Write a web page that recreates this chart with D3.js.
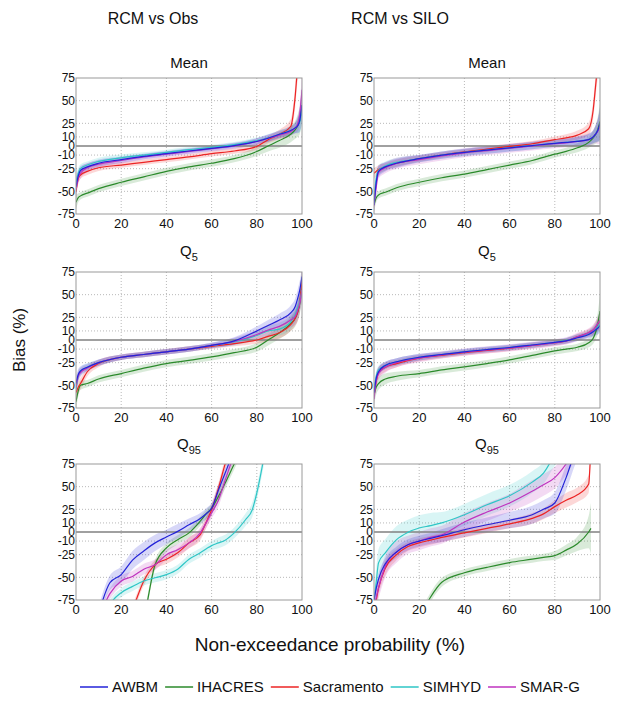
<!DOCTYPE html>
<html>
<head>
<meta charset="utf-8">
<script src="https://cdn.jsdelivr.net/npm/d3@7/dist/d3.min.js"></script>
<style>
  body { margin: 0; background: #fff; }
  text { font-family: "Liberation Sans", Arial, sans-serif; fill: #111; }
</style>
</head>
<body>
<div id="chart"></div>
<script>
// model names, in legend order
const models = ["AWBM", "IHACRES", "Sacramento", "SIMHYD", "SMAR-G"];
const columnTitles = ["RCM vs Obs", "RCM vs SILO"];
const rowTitles = [["Mean", ""], ["Q", "5"], ["Q", "95"]];
const xTicks = [0, 20, 40, 60, 80, 100];
const yTicks = [-75, -50, -25, -10, 0, 10, 25, 50, 75];

// x positions (non-exceedance %) for Mean and Q5 panels
const curveX = [0, 1, 2, 5, 10, 20, 30, 40, 50, 60, 70, 80, 85, 90, 95, 97, 98, 99, 100];

// Mean, RCM vs Obs  (rows: AWBM, IHACRES, Sacramento, SIMHYD, SMAR-G)
const obsMeanY = [
  [-45, -33, -27, -23, -19, -15, -11.5, -8.5, -5.5, -2.6, 0.5, 5, 8.6, 13, 17, 20, 22, 28, 45],
  [-62, -57, -55, -52, -47, -40, -34, -28, -23, -19, -14, -6, 0, 6, 13, 18, 22, 28, 45],
  [-50, -36, -32, -28, -24, -21, -18, -15, -12, -8.5, -5.5, -0.5, 7, 13, 21.5, 55, 85, 100, 110],
  [-40, -30, -25, -21, -17, -13, -10, -7, -4, -1.5, 1.5, 6, 9, 13, 17, 20, 23, 27, 40],
  [-48, -35, -30, -24, -20, -16, -12, -9, -6, -3, 0, 5, 8.5, 12, 16, 20, 24, 35, 62]
];
const obsMeanBand = [
  [10, 6, 5, 4, 4, 3.5, 3, 3, 3, 3, 3, 3.5, 4, 4, 5, 6, 8, 12, 20],
  [8, 5, 4, 4, 4, 4, 4, 4, 4, 4, 4, 5, 6, 8, 9, 10, 12, 15, 18],
  [8, 5, 4, 4, 3.5, 3, 3, 3, 3, 3, 3, 3.5, 4, 5, 8, 12, 15, 20, 25],
  [8, 6, 5, 4, 4, 3.5, 3, 3, 3, 3, 3, 3.5, 4, 4, 5, 6, 8, 12, 15],
  [10, 7, 6, 5, 4, 3.5, 3, 3, 3, 3, 3, 3.5, 4, 4, 5, 6, 8, 12, 20]
];

// Mean, RCM vs SILO
const siloMeanY = [
  [-65, -40, -28, -23, -19, -14, -10, -7, -4.5, -2, 0.5, 3, 4, 5, 7, 10, 13, 17, 25],
  [-65, -57, -54, -51, -46, -40, -35, -31, -26, -21, -16, -9, -6, -2, 4, 9, 12.5, 18, 27],
  [-30, -28, -26, -23, -19, -14, -10, -6.5, -3.5, -0.5, 2.5, 7, 9, 12, 19, 40, 65, 90, 110],
  [-60, -35, -27, -22, -18, -14, -10, -7, -4.5, -2, 0.5, 3, 4, 5.5, 7.5, 10, 13, 17, 22],
  [-66, -45, -29, -24, -19, -15, -11, -7.5, -5, -2.5, 0, 2.5, 3.5, 5, 7, 10, 13, 16, 22]
];
const siloMeanBand = [
  [8, 7, 6, 5, 5, 4, 4, 4, 4, 4, 4, 4, 4, 5, 6, 7, 9, 12, 18],
  [8, 5, 4, 4, 4, 4, 4, 4, 4, 4, 4, 4, 4, 5, 6, 8, 10, 14, 20],
  [6, 5, 5, 4, 4, 3.5, 3, 3, 3, 3, 3, 3.5, 4, 5, 7, 10, 12, 15, 20],
  [8, 7, 6, 5, 5, 4, 4, 4, 4, 4, 4, 4, 4, 5, 6, 7, 9, 12, 18],
  [10, 8, 7, 6, 6, 5, 5, 5, 5, 5, 5, 5, 5, 6, 7, 8, 10, 14, 20]
];

// Q5, RCM vs Obs
const obsQ5Y = [
  [-48, -38, -34, -30, -25, -19, -16, -13, -10, -6, -1, 10, 16, 22, 30, 37, 45, 55, 70],
  [-68, -56, -50, -48, -43, -37, -31, -26, -22.5, -18.7, -14, -8, 0, 8, 18, 24, 30, 40, 60],
  [-58, -52, -48, -35, -26, -19, -16, -13, -10, -7, -4, 0, 4, 8, 17, 24, 30, 42, 65],
  [-55, -40, -35, -30, -25, -19, -16, -13, -10, -6, -2, 5, 10, 12, 20, 28, 35, 42, 55],
  [-52, -40, -36, -31, -25, -19, -16, -13, -10, -6, -1.5, 6, 11, 15, 22, 26, 32, 40, 55]
];
const obsQ5Band = [
  [8, 6, 5, 4, 3.5, 3, 3, 3, 3, 3, 4, 5, 6, 7, 8, 9, 10, 10, 10],
  [10, 6, 5, 4, 4, 4, 4, 4, 4, 4, 4, 5, 6, 7, 8, 9, 10, 12, 15],
  [8, 7, 6, 5, 4, 3, 3, 3, 3, 3, 3, 4, 5, 6, 7, 8, 10, 12, 15],
  [8, 6, 5, 4, 3.5, 3, 3, 3, 3, 3, 4, 5, 6, 7, 8, 9, 10, 10, 12],
  [8, 6, 5, 4, 3.5, 3, 3, 3, 3, 3, 4, 5, 6, 7, 8, 9, 10, 10, 12]
];

// Q5, RCM vs SILO
const siloQ5Y = [
  [-58, -42, -35, -28, -24, -19, -16, -13, -10.5, -8.3, -5.5, -2.6, -1, 2.5, 6, 9, 11, 13, 16],
  [-61, -52, -48, -43, -40, -37, -33, -29.6, -26, -22, -17, -12, -10, -8, -3, 2, 8, 18, 32],
  [-60, -45, -36, -30, -26, -20, -17, -14, -11.5, -9, -6, -3, -1, 3.5, 8, 11, 14, 17, 21],
  [-55, -40, -33, -28, -24, -19, -16, -13, -10.5, -8.3, -5.5, -2.6, -0.5, 3, 7, 10, 12, 15, 19],
  [-65, -45, -37, -30, -25, -20, -16.5, -13.5, -11, -8.8, -6, -3, -1, 3.5, 8, 11, 14, 18, 22]
];
const siloQ5Band = [
  [8, 6, 5, 4, 4, 3.5, 3, 3, 3, 3, 3, 3, 3, 3.5, 4, 5, 6, 7, 8],
  [10, 8, 7, 6, 5, 4, 4, 4, 4, 4, 4, 4, 4, 4, 5, 6, 8, 12, 18],
  [8, 7, 6, 5, 4, 3.5, 3, 3, 3, 3, 3, 3, 3, 3.5, 4, 5, 6, 7, 8],
  [8, 6, 5, 4, 4, 3.5, 3, 3, 3, 3, 3, 3, 3, 3.5, 4, 5, 6, 7, 8],
  [10, 8, 7, 6, 5, 4.5, 4, 4, 4, 4, 4, 4, 4, 4.5, 5, 6, 7, 8, 10]
];

// Q95, RCM vs Obs
const obsQ95X = [10, 15, 20, 25, 30, 35, 40, 45, 50, 55, 58, 60, 63, 66, 70, 75, 78, 80, 83];
const obsQ95Y = [
  [-90, -56, -47, -31, -21, -12, -5.5, 0.7, 8, 15, 21, 26, 46, 65, 90, 110, 120, 125, 130],
  [null, null, -150, -125, -95, -36, -17.6, -8.5, -1, 12, 21, 26, 39, 54, 75, 100, 110, 115, 120],
  [-150, -130, -110, -85, -54, -36, -30, -23, -12, -3, 13, 24.5, 48, 75, 100, 115, 120, 125, 130],
  [-110, -80, -67, -60, -54, -50.5, -47, -41, -30, -23, -18, -15, -12, -9, -1, 13.5, 24.5, 43, 80],
  [-95, -68, -54, -49, -41, -36, -25, -19.5, -12, -1, 12, 21, 35, 57, 85, 105, 115, 120, 125]
];
const obsQ95Band = [
  [8, 8, 9, 10, 10, 9, 8, 8, 7, 6, 6, 6, 6, 6, 6, 6, 6, 6, 6],
  [5, 5, 5, 5, 5, 5, 5, 5, 5, 5, 5, 5, 6, 6, 6, 6, 6, 6, 6],
  [5, 5, 5, 5, 5, 5, 5, 5, 6, 6, 6, 6, 6, 6, 6, 6, 6, 6, 6],
  [5, 5, 5, 5, 5, 5, 5, 5, 5, 5, 5, 5, 6, 6, 6, 7, 8, 8, 8],
  [6, 6, 6, 6, 6, 6, 6, 6, 6, 6, 6, 6, 7, 7, 7, 7, 7, 7, 7]
];

// Q95, RCM vs SILO
const siloQ95X = [0, 1, 2, 5, 10, 15, 20, 25, 30, 40, 50, 60, 70, 75, 80, 85, 90, 95, 96, 98];
const siloQ95Y = [
  [-75, -62, -52, -35, -22, -14, -10, -7, -4, 2.5, 8, 13, 19, 25, 32, 60, 95, 110, 115, 120],
  [null, null, null, null, null, -120, -95, -72, -55.5, -45, -39, -33.7, -30, -28, -26, -20, -13, 0, 4, null],
  [-88, -75, -62, -40, -25, -16, -12, -9, -6, -1, 4, 9, 15, 20, 28, 35, 41, 53, 90, 110],
  [-75, -55, -34, -23, -8.4, -0.4, 4.4, 7, 10, 19, 30, 40, 55, 65, 85, 100, 110, 120, 125, 130],
  [-85, -72, -62, -38, -22, -14, -10, -6, -3, 11, 22, 32, 45, 52, 60, 75, 95, 110, 115, 120]
];
const siloQ95Band = [
  [5, 6, 6, 6, 6, 6, 6, 6, 7, 8, 8, 9, 10, 10, 12, 14, 15, 15, 15, 15],
  [5, 5, 5, 5, 5, 5, 5, 5, 5, 4, 4, 4, 4, 4, 5, 6, 8, 18, 28, 28],
  [8, 8, 8, 8, 6, 5, 5, 5, 5, 5, 5, 5, 6, 6, 7, 8, 8, 10, 10, 10],
  [10, 15, 15, 15, 15, 14, 14, 14, 12, 12, 12, 12, 12, 12, 12, 12, 12, 12, 12, 12],
  [10, 12, 12, 12, 12, 10, 10, 10, 10, 10, 10, 10, 12, 12, 12, 12, 12, 12, 12, 12]
];

// ---- styling / layout ----
const colors = ["#2323d8", "#2b8a2b", "#ec2424", "#2ec6c6", "#bf33bf"];
const drawOrder = [1, 2, 3, 4, 0];
const width = 630, height = 708;
const colX = [76, 374], panelW = 226;
const rowY = [78, 272, 464], panelH = 136;
const titleGap = [10, 16, 15];

const panels = [
  { col: 0, row: 0, xs: curveX, ys: obsMeanY, band: obsMeanBand },
  { col: 1, row: 0, xs: curveX, ys: siloMeanY, band: siloMeanBand },
  { col: 0, row: 1, xs: curveX, ys: obsQ5Y, band: obsQ5Band },
  { col: 1, row: 1, xs: curveX, ys: siloQ5Y, band: siloQ5Band },
  { col: 0, row: 2, xs: obsQ95X, ys: obsQ95Y, band: obsQ95Band },
  { col: 1, row: 2, xs: siloQ95X, ys: siloQ95Y, band: siloQ95Band }
];

const svg = d3.select("#chart").append("svg")
  .attr("width", width)
  .attr("height", height);

// column titles
const colTitleX = [153, 400];
columnTitles.forEach(function (t, i) {
  svg.append("text")
    .attr("x", colTitleX[i])
    .attr("y", 24)
    .attr("text-anchor", "middle")
    .style("font-size", "16px")
    .text(t);
});

panels.forEach(function (p, pi) {
  const x0 = colX[p.col], y0 = rowY[p.row];
  const x = d3.scaleLinear().domain([0, 100]).range([x0, x0 + panelW]);
  const y = d3.scaleLinear().domain([-75, 75]).range([y0 + panelH, y0]);
  const g = svg.append("g");

  g.append("clipPath").attr("id", "clip" + pi)
    .append("rect")
    .attr("x", x0).attr("y", y0)
    .attr("width", panelW).attr("height", panelH);

  // panel title
  const tt = g.append("text")
    .attr("x", x0 + panelW / 2)
    .attr("y", y0 - titleGap[p.row])
    .attr("text-anchor", "middle")
    .style("font-size", "15px");
  tt.append("tspan").text(rowTitles[p.row][0]);
  if (rowTitles[p.row][1]) {
    tt.append("tspan")
      .attr("dy", 5)
      .style("font-size", "11px")
      .text(rowTitles[p.row][1]);
  }

  // dotted grid
  g.selectAll(".gx")
    .data(xTicks.filter(function (d) { return d > 0 && d < 100; }))
    .enter().append("line")
    .attr("x1", function (d) { return x(d); })
    .attr("x2", function (d) { return x(d); })
    .attr("y1", y0).attr("y2", y0 + panelH)
    .style("stroke", "#b8b8b8")
    .style("stroke-dasharray", "1,2");
  g.selectAll(".gy")
    .data(yTicks.filter(function (d) { return d !== 0 && Math.abs(d) < 75; }))
    .enter().append("line")
    .attr("x1", x0).attr("x2", x0 + panelW)
    .attr("y1", function (d) { return y(d); })
    .attr("y2", function (d) { return y(d); })
    .style("stroke", "#b8b8b8")
    .style("stroke-dasharray", "1,2");

  // tick labels
  g.selectAll(".ty")
    .data(yTicks)
    .enter().append("text")
    .attr("x", x0 - 1)
    .attr("y", function (d) { return y(d); })
    .attr("dy", "0.35em")
    .attr("text-anchor", "end")
    .style("font-size", "12px")
    .text(function (d) { return d; });
  g.selectAll(".tx")
    .data(xTicks)
    .enter().append("text")
    .attr("x", function (d) { return x(d); })
    .attr("y", y0 + panelH + 14)
    .attr("text-anchor", "middle")
    .style("font-size", "13px")
    .text(function (d) { return d; });

  const plot = g.append("g").attr("clip-path", "url(#clip" + pi + ")");

  const seriesData = p.ys.map(function (ys, si) {
    return ys.map(function (v, i) { return { x: p.xs[i], v: v, b: p.band[si][i] }; });
  });

  const area = d3.area()
    .defined(function (d) { return d.v !== null; })
    .x(function (d) { return x(d.x); })
    .y0(function (d) { return y(d.v - d.b); })
    .y1(function (d) { return y(d.v + d.b); })
    .curve(d3.curveMonotoneX);

  const line = d3.line()
    .defined(function (d) { return d.v !== null; })
    .x(function (d) { return x(d.x); })
    .y(function (d) { return y(d.v); })
    .curve(d3.curveMonotoneX);

  // uncertainty bands
  drawOrder.forEach(function (si) {
    plot.append("path")
      .attr("d", area(seriesData[si]))
      .style("fill", colors[si])
      .style("fill-opacity", 0.18)
      .style("stroke", "none");
  });

  // zero line
  plot.append("line")
    .attr("x1", x0).attr("x2", x0 + panelW)
    .attr("y1", y(0)).attr("y2", y(0))
    .style("stroke", "#808080")
    .style("stroke-width", 1.3);

  drawOrder.forEach(function (si) {
    plot.append("path")
      .attr("d", line(seriesData[si]))
      .style("fill", "none")
      .style("stroke", colors[si])
      .style("stroke-width", 1.2);
  });

  // frame
  g.append("rect")
    .attr("x", x0).attr("y", y0)
    .attr("width", panelW).attr("height", panelH)
    .style("fill", "none")
    .style("stroke", "#9a9a9a");
});

// axis labels
svg.append("text")
  .attr("transform", "translate(25,340) rotate(-90)")
  .attr("text-anchor", "middle")
  .style("font-size", "17px")
  .text("Bias (%)");

svg.append("text")
  .attr("x", 330)
  .attr("y", 651)
  .attr("text-anchor", "middle")
  .style("font-size", "19px")
  .text("Non-exceedance probability (%)");

// legend
let lx = 80;
const ly = 687;
models.forEach(function (m, i) {
  svg.append("line")
    .attr("x1", lx).attr("x2", lx + 28)
    .attr("y1", ly).attr("y2", ly)
    .style("stroke", colors[i])
    .style("stroke-width", 1.5);
  const t = svg.append("text")
    .attr("x", lx + 32)
    .attr("y", ly)
    .attr("dy", "0.35em")
    .style("font-size", "15px")
    .text(m);
  lx += 32 + t.node().getComputedTextLength() + 7;
});
</script>
</body>
</html>
